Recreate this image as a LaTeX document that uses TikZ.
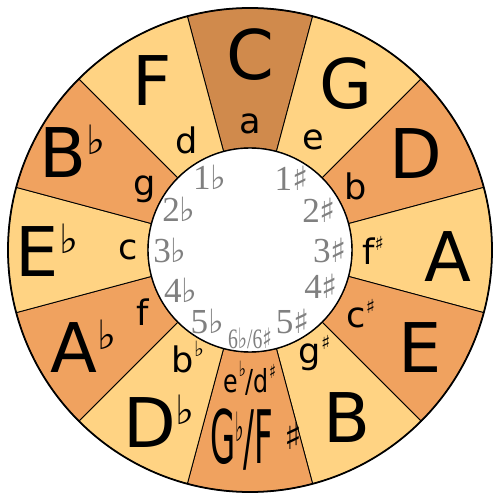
\documentclass[tikz,border=0pt]{standalone}
\usepackage{fontspec}
\setmainfont{DejaVu Sans}
\newfontfamily\numfont{Liberation Serif}
\newfontfamily\symfont{DejaVu Sans}
\usetikzlibrary{positioning}

\definecolor{keylight}{RGB}{255,211,131}
\definecolor{keymid}{RGB}{240,162,95}
\definecolor{keydark}{RGB}{208,138,76}
\definecolor{sigrey}{RGB}{128,128,128}

% accidentals
\newcommand{\majfl}{\raisebox{13pt}{\fontsize{23}{23}\selectfont ♭}}
\newcommand{\minfl}{\raisebox{9pt}{\fontsize{12}{12}\selectfont ♭}}
\newcommand{\minsh}{\raisebox{8pt}{\fontsize{11}{11}\selectfont ♯}}
\newcommand{\sigfl}{{\symfont\fontsize{19}{19}\selectfont ♭}}
\newcommand{\sigsh}{{\symfont\fontsize{19}{19}\selectfont ♯}}

\begin{document}
\begin{tikzpicture}[
  x=0.02cm, y=0.02cm,
  wedge/.style={draw=black, line width=0.5pt},
  major/.style={font=\fontsize{39}{40}\selectfont, inner sep=0pt},
  minor/.style={font=\fontsize{20}{22}\selectfont, inner sep=0pt},
  keysig/.style={font=\numfont\fontsize{20}{21}\selectfont, text=sigrey, inner sep=0pt}
]
\useasboundingbox (-250,-250) rectangle (250,250);

% ring of keys
\foreach \ang/\col in {90/keydark, 60/keylight, 30/keymid, 0/keylight,
    -30/keymid, -60/keylight, -90/keymid, -120/keylight, -150/keymid,
    180/keylight, 150/keymid, 120/keylight}
  \filldraw[wedge, fill=\col] (\ang-15:102) -- (\ang-15:242)
    arc[start angle=\ang-15, end angle=\ang+15, radius=242]
    -- (\ang+15:102)
    arc[start angle=\ang+15, end angle=\ang-15, radius=102] -- cycle;
\draw[line width=1pt] (0,0) circle[radius=242];
\draw[line width=0.8pt, fill=white] (0,0) circle[radius=102];

% major keys
\node[major] (keyC) at (90:195) {C};
\node[major] (keyG) at (60:192) {G};
\node[major] (keyD) at (30:192) {D};
\node[major] (keyA) at (-2:198) {A};
\node[major] (keyE) at (-30:196) {E};
\node[major] (keyB) at (-60:194) {B};
\node[major] (keyGb) at (-88:190)
  {\scalebox{0.44}[1]{\fontsize{42}{42}\selectfont G\majfl/F}\,\raisebox{8pt}{\fontsize{21}{21}\selectfont ♯}};
\node[major] (keyDb) at (-118:194) {D\majfl};
\node[major] (keyAb) at (-150:192) {A\majfl};
\node[major] (keyEb) at (180:203) {E\majfl};
\node[major] (keyBb) at (151:203) {B\majfl};
\node[major] (keyF) at (120:196) {F};

% minor keys
\node[minor] (minA) at (90:126) {a};
\node[minor] (minE) at (60:127) {e};
\node[minor] (minB) at (31:123) {b};
\node[minor] (minFs) at (0:123) {f\minsh};
\node[minor] (minCs) at (-30:128) {c\minsh};
\node[minor] (minGs) at (-58:122) {g\minsh};
\node[minor] (minEb) at (-90:128)
  {\scalebox{0.75}[1]{\fontsize{18}{18}\selectfont e\minfl/d\minsh}};
\node[minor] (minBb) at (-120:124) {b\minfl};
\node[minor] (minF) at (-150:124) {f};
\node[minor] (minC) at (180:122) {c};
\node[minor] (minG) at (150:122) {g};
\node[minor] (minD) at (120:126) {d};

% key signatures
\node[keysig] (sigS1) at (60:83) {1\sigsh};
\node[keysig] (sigS2) at (30:80) {2\sigsh};
\node[keysig] (sigS3) at (0:80) {3\sigsh};
\node[keysig] (sigS4) at (-27:80) {4\sigsh};
\node[keysig] (sigS5) at (-59:83) {5\sigsh};
\node[keysig] (sigSix) at (-90:88)
  {\scalebox{0.7}[1]{\fontsize{16}{16}\selectfont 6{\symfont ♭}/6{\symfont ♯}}};
\node[keysig] (sigF5) at (-121:83) {5\sigfl};
\node[keysig] (sigF4) at (-150:80) {4\sigfl};
\node[keysig] (sigF3) at (180:80) {3\sigfl};
\node[keysig] (sigF2) at (150:82) {2\sigfl};
\node[keysig] (sigF1) at (119:83) {1\sigfl};
\end{tikzpicture}
\end{document}
